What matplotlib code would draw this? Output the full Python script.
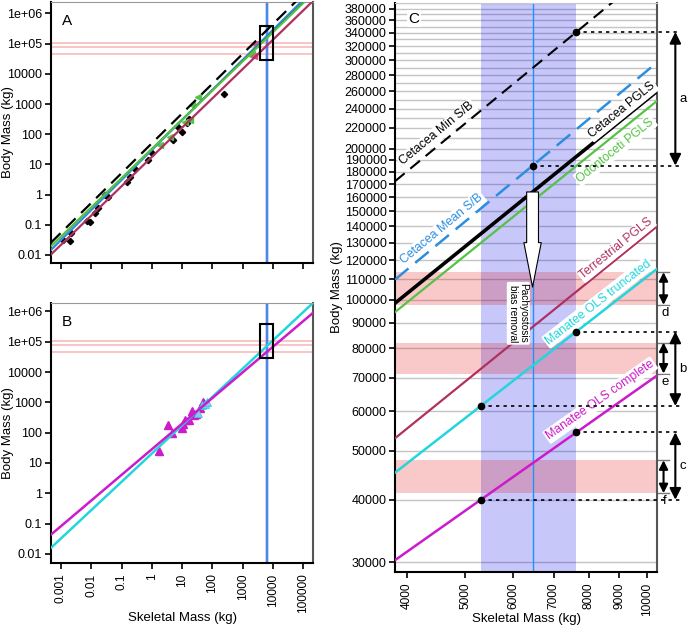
import matplotlib.pyplot as plt
import numpy as np
from matplotlib.patches import Rectangle
from matplotlib.ticker import NullLocator

plt.rcParams['font.family'] = ['Liberation Sans', 'DejaVu Sans']
plt.rcParams['font.size'] = 9

# regression lines: log10(body) = a + b * log10(skeleton)
line_names = ['Cetacea Min S/B', 'Cetacea Mean S/B', 'Cetacea PGLS',
              'Odontoceti PGLS', 'Terrestrial PGLS',
              'Manatee OLS truncated', 'Manatee OLS complete']
line_intercepts = [1.697, 1.476, 1.515, 1.508, 1.246, 1.310, 1.451]
line_slopes = [0.988, 0.995, 0.971, 0.968, 0.971, 0.934, 0.846]

# skeletal mass estimate (kg)
skel_mean = 6460
skel_lo = 5300
skel_hi = 7640

# body mass ranges (kg) and their letters
band_lo = [41200, 71300, 97700]
band_hi = [47900, 82200, 113500]
band_letters = ['f', 'e', 'd']

# pachyostosis corrected body mass (kg)
pachy_target = 106000

# sample points, panel A
terr_skel = [0.0012, 0.0020, 0.0022, 0.0074, 0.0090, 0.013, 0.017, 0.028, 0.037,
             0.15, 0.19, 0.28, 0.77, 1.0, 5.2, 7.5, 9.8, 14.3, 17.5, 236]
terr_body = [0.031, 0.030, 0.054, 0.13, 0.12, 0.24, 0.35, 0.94, 0.85,
             2.7, 3.9, 7.3, 14, 24, 63, 175, 120, 230, 330, 2230]
odo_skel = [1.9, 4.0, 12.6, 18.4, 20.7, 34.5, 1800, 2100]
odo_body = [44, 83, 260, 293, 920, 1740, 42000, 47000]
mys_skel = [2600, 2300]
mys_body = [100000, 40000]

# sample points, panel B
man_skel = [1.7, 3.5, 4.5, 9.8, 11, 12.6, 16.4, 21, 24, 28, 39, 50]
man_body = [25, 180, 97, 140, 200, 270, 270, 500, 390, 420, 650, 1000]
man_big_skel = [34, 45, 55, 65]
man_big_body = [450, 830, 900, 1050]

c_xlim = (3820, 10390)
c_ylim = (28700, 390000)

col = {
    'Cetacea Min S/B': 'black',
    'Cetacea Mean S/B': '#2b8ee0',
    'Cetacea PGLS': 'black',
    'Odontoceti PGLS': '#55c245',
    'Terrestrial PGLS': '#b03060',
    'Manatee OLS truncated': '#22d6dc',
    'Manatee OLS complete': '#cc1acc',
}


def body_mass(i, skel):
    return 10 ** (line_intercepts[i] + line_slopes[i] * np.log10(skel))


fig = plt.figure(figsize=(6.88, 6.27), dpi=100)
W, H = 688, 627


def px_axes(left, top, right, bottom):
    return fig.add_axes([left / W, 1 - bottom / H, (right - left) / W, (bottom - top) / H])


ax_a = px_axes(51, 2, 313, 263)
ax_b = px_axes(51, 303, 313, 563)
ax_c = px_axes(395, 3, 657, 572)

dec_x = [0.001, 0.01, 0.1, 1, 10, 100, 1000, 10000, 100000]
dec_x_lab = ['0.001', '0.01', '0.1', '1', '10', '100', '1000', '10000', '100000']
dec_y = [0.01, 0.1, 1, 10, 100, 1000, 10000, 1e5, 1e6]
dec_y_lab = ['0.01', '0.1', '1', '10', '100', '1000', '10000', '1e+05', '1e+06']


def style_spines(ax):
    for s in ('left', 'bottom'):
        ax.spines[s].set_linewidth(1.5)
    ax.spines['right'].set_color('#555555')
    ax.spines['right'].set_linewidth(1.5)
    ax.spines['top'].set_color('#999999')
    ax.tick_params(direction='out', length=4.5, width=1.2, labelsize=9, pad=2)


for ax, ylim, letter in ((ax_a, (0.0054, 2.4e6), 'A'), (ax_b, (0.0050, 1.9e6), 'B')):
    ax.set_xscale('log')
    ax.set_yscale('log')
    ax.set_xlim(0.00047, 2.1e5)
    ax.set_ylim(*ylim)
    ax.set_xticks(dec_x)
    ax.set_yticks(dec_y)
    ax.set_yticklabels(dec_y_lab)
    ax.xaxis.set_minor_locator(NullLocator())
    ax.yaxis.set_minor_locator(NullLocator())
    style_spines(ax)
    ax.set_ylabel('Body Mass (kg)', fontsize=9.5)
    ax.yaxis.set_label_coords(-0.142, 0.5)
    ax.text(0.04, 0.955, letter, transform=ax.transAxes, fontsize=11, va='top')
    for lo, hi in zip(band_lo, band_hi):
        ax.axhspan(lo, hi, color=(0.92, 0.1, 0.1), alpha=0.25, lw=0, zorder=1)
    ax.axvspan(skel_lo, skel_hi, color=(0.3, 0.45, 0.95), alpha=0.3, lw=0, zorder=1)
    ax.axvline(skel_mean, color='#3d7fe6', lw=1.3, zorder=2)
    ax.add_patch(Rectangle((c_xlim[0], c_ylim[0]), c_xlim[1] - c_xlim[0],
                           c_ylim[1] - c_ylim[0], fill=False, ec='black', lw=1.5, zorder=6))

ax_a.set_xticklabels([])
ax_b.set_xticklabels(dec_x_lab, rotation=90)
ax_b.tick_params(axis='x', labelsize=8.6, pad=3)
ax_b.set_xlabel('Skeletal Mass (kg)', fontsize=9.5)
ax_b.xaxis.set_label_coords(0.5, -0.19)

xs_ab = np.array([0.00047, 2.1e5])

# panel A
ax_a.plot(terr_skel, terr_body, 'D', color='black', ms=3.2, zorder=3)
ax_a.plot(odo_skel, odo_body, '<', color='#55c245', ms=5, zorder=3)
ax_a.plot(mys_skel, mys_body, '<', color='#e0507a', ms=5, zorder=3)
ax_a.plot(xs_ab, body_mass(0, xs_ab), color='black', lw=1.6, ls=(0, (6, 3.5)), zorder=4)
ax_a.plot(xs_ab, body_mass(1, xs_ab), color=col['Cetacea Mean S/B'], lw=1.6, zorder=4)
ax_a.plot(xs_ab, body_mass(2, xs_ab), color='black', lw=1.0, zorder=4)
ax_a.plot(xs_ab, body_mass(3, xs_ab), color=col['Odontoceti PGLS'], lw=1.6, zorder=4)
ax_a.plot(xs_ab, body_mass(4, xs_ab), color=col['Terrestrial PGLS'], lw=1.6, zorder=4)

# panel B
ax_b.plot(man_skel, man_body, '^', color='#cc1acc', ms=6, zorder=3)
ax_b.plot(man_big_skel, man_big_body, '^', color='#a9b8f0', mec='#22d6dc', mew=0.6, ms=6, zorder=3)
ax_b.plot(xs_ab, body_mass(5, xs_ab), color=col['Manatee OLS truncated'], lw=1.8, zorder=4)
ax_b.plot(xs_ab, body_mass(6, xs_ab), color=col['Manatee OLS complete'], lw=1.8, zorder=4)

# panel C
ax = ax_c
ax.set_xscale('log')
ax.set_yscale('log')
ax.set_xlim(*c_xlim)
ax.set_ylim(*c_ylim)
c_xt = [4000, 5000, 6000, 7000, 8000, 9000, 10000]
c_yt = list(range(30000, 200001, 10000)) + list(range(220000, 380001, 20000))
c_grid = list(range(30000, 100000, 10000)) + list(range(100000, 390001, 10000))
ax.set_xticks(c_xt)
ax.set_xticklabels([str(v) for v in c_xt], rotation=90)
ax.set_yticks(c_yt)
ax.set_yticklabels([str(v) for v in c_yt])
ax.xaxis.set_minor_locator(NullLocator())
ax.yaxis.set_minor_locator(NullLocator())
style_spines(ax)
ax.spines['top'].set_color('#c8c8c8')
ax.tick_params(axis='y', labelsize=9, pad=1.5)
ax.tick_params(axis='x', labelsize=8.6, pad=3)
ax.set_xlabel('Skeletal Mass (kg)', fontsize=9.5)
ax.xaxis.set_label_coords(0.5, -0.072)
ax.set_ylabel('Body Mass (kg)', fontsize=9.5)
ax.yaxis.set_label_coords(-0.2, 0.5)
for g in c_grid:
    ax.axhline(g, color='#c4c4c4', lw=1.0, zorder=0)
ax.axvspan(skel_lo, skel_hi, color=(0.0, 0.0, 0.9), alpha=0.22, lw=0, zorder=1)
for lo, hi in zip(band_lo, band_hi):
    ax.axhspan(lo, hi, color=(0.9, 0.05, 0.05), alpha=0.22, lw=0, zorder=1)
ax.axvline(skel_mean, color='#1e90ff', lw=1.0, zorder=2)

xs_c = np.array(c_xlim)
c_styles = [dict(lw=1.5, ls=(0, (6, 3.5))), dict(lw=1.8, ls=(0, (7, 3.5))),
            dict(lw=2.6), dict(lw=1.6), dict(lw=1.6), dict(lw=1.8), dict(lw=1.8)]
for i, name in enumerate(line_names):
    ax.plot(xs_c, body_mass(i, xs_c), color=col[name], zorder=3, **c_styles[i])

# line labels, rotated along their lines
label_xy = [(4486, 214000), (4571, 138500), (9094, 238400), (8860, 198500),
            (8900, 126500), (8302, 98900), (8365, 63100)]
for i, name in enumerate(line_names):
    p = ax.transData.transform([(4000, body_mass(i, 4000)), (10000, body_mass(i, 10000))])
    ang = np.degrees(np.arctan2(p[1, 1] - p[0, 1], p[1, 0] - p[0, 0]))
    ax.text(*label_xy[i], name, color=col[name], fontsize=8.8, rotation=ang,
            rotation_mode='anchor', ha='center', va='center', zorder=5,
            bbox=dict(boxstyle='round,pad=0.12', fc='white', ec='none'))

ax.text(0.05, 0.985, 'C', transform=ax.transAxes, fontsize=11, va='top', zorder=6,
        bbox=dict(boxstyle='square,pad=0.1', fc='white', ec='none'))

# pachyostosis arrow
pgls_mean = body_mass(2, skel_mean)
ax.annotate('', xy=(skel_mean, pachy_target), xytext=(skel_mean, pgls_mean),
            arrowprops=dict(arrowstyle='simple,head_length=3.2,head_width=1.25,tail_width=0.85',
                            mutation_scale=10, fc='white', ec='black', lw=0.8,
                            shrinkA=0, shrinkB=0), zorder=6)
ax.text(6118, 94000, 'Pachyostosis\nbias removal', rotation=-90, fontsize=7.3,
        ha='center', va='center', linespacing=1.0, zorder=7,
        bbox=dict(boxstyle='round,pad=0.15', fc='white', ec='none'))

# estimate points and their ranges
pairs = [(0, skel_hi, 1, skel_mean, 'a'), (5, skel_hi, 5, skel_lo, 'b'),
         (6, skel_hi, 6, skel_lo, 'c')]
ytr = ax.get_yaxis_transform()
for i_top, x_top, i_bot, x_bot, letter in pairs:
    y_top = body_mass(i_top, x_top)
    y_bot = body_mass(i_bot, x_bot)
    for xd, yd in ((x_top, y_top), (x_bot, y_bot)):
        ax.plot([xd], [yd], 'o', color='black', ms=4.5, zorder=6)
        ax.plot([xd, 11400], [yd, yd], color='black', lw=1.2, ls=(0, (2, 2.5)),
                clip_on=False, zorder=6)
    ax.annotate('', xy=(1.07, y_top), xytext=(1.07, y_bot), xycoords=ytr,
                arrowprops=dict(arrowstyle='<|-|>', color='black', lw=1.5,
                                mutation_scale=17, shrinkA=0, shrinkB=0),
                annotation_clip=False)
    ax.text(1.1, np.sqrt(y_top * y_bot), letter, transform=ytr, fontsize=9.5,
            ha='center', va='center')

for lo, hi, letter in zip(band_lo, band_hi, band_letters):
    for yb in (lo, hi):
        ax.plot([1.0, 1.045], [yb, yb], color='#777777', lw=1.0, transform=ytr,
                clip_on=False)
    ax.annotate('', xy=(1.025, hi), xytext=(1.025, lo), xycoords=ytr,
                arrowprops=dict(arrowstyle='<|-|>', color='black', lw=1.5,
                                mutation_scale=13, shrinkA=0, shrinkB=0),
                annotation_clip=False)
    ax.text(1.03, lo * 0.99, letter, transform=ytr, fontsize=9.5, ha='center', va='top',
            bbox=dict(boxstyle='square,pad=0.05', fc='white', ec='none'))

fig.savefig('out.png', dpi=100)
